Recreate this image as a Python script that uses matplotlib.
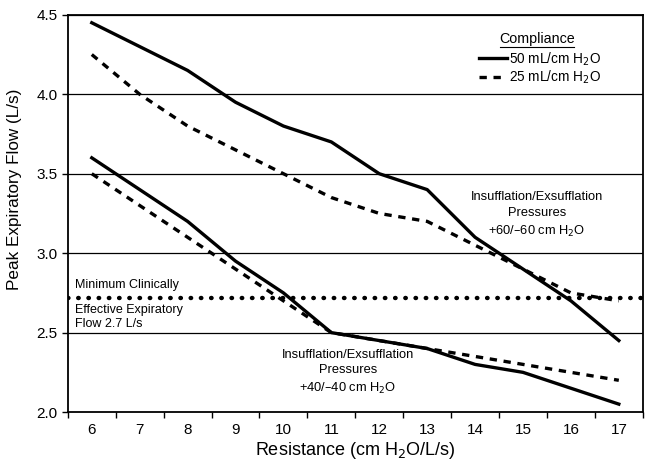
from matplotlib import pyplot as plt
from matplotlib.lines import Line2D
import numpy as np

plt.rcParams['font.family'] = ['Liberation Sans', 'DejaVu Sans']

resistance = [6, 7, 8, 9, 10, 11, 12, 13, 14, 15, 16, 17]
hi_50 = [4.45, 4.30, 4.15, 3.95, 3.80, 3.70, 3.50, 3.40, 3.10, 2.90, 2.70, 2.45]
hi_25 = [4.25, 4.00, 3.80, 3.65, 3.50, 3.35, 3.25, 3.20, 3.05, 2.90, 2.75, 2.70]
lo_50 = [3.60, 3.40, 3.20, 2.95, 2.75, 2.50, 2.45, 2.40, 2.30, 2.25, 2.15, 2.05]
lo_25 = [3.50, 3.30, 3.10, 2.90, 2.70, 2.50, 2.45, 2.40, 2.35, 2.30, 2.25, 2.20]
threshold = 2.72
yticks = [2.0, 2.5, 3.0, 3.5, 4.0, 4.5]

fig = plt.figure(figsize=(6.46, 4.63), dpi=100)
ax = fig.add_axes([0.105, 0.110, 0.89, 0.858])

for y in yticks[1:]:
    ax.axhline(y, color='k', lw=0.9, zorder=1)
ax.axhline(threshold, color='k', ls=(0, (0.1, 2.2)), lw=3.2, dash_capstyle='round', zorder=2)

dash = (0, (2.2, 2.0))
ax.plot(resistance, hi_50, color='k', lw=2.4, zorder=3)
ax.plot(resistance, hi_25, color='k', lw=2.4, ls=dash, zorder=3)
ax.plot(resistance, lo_50, color='k', lw=2.4, zorder=3)
ax.plot(resistance, lo_25, color='k', lw=2.4, ls=dash, zorder=3)

ax.set_xlim(5.5, 17.5)
ax.set_ylim(2.0, 4.5)
ax.set_xticks(resistance)
ax.set_xticks(np.arange(5.5, 18, 1), minor=True)
ax.tick_params(axis='x', which='major', length=0, labelsize=11, pad=8)
ax.tick_params(axis='x', which='minor', length=4, width=1, direction='out')
ax.set_yticks(yticks)
ax.set_yticklabels([f"{v:.1f}" for v in yticks])
ax.tick_params(axis='y', labelsize=11, length=4, width=1, direction='out')
for s in ax.spines.values():
    s.set_linewidth(1.3)

ax.set_xlabel("Resistance (cm H$_2$O/L/s)", fontsize=13, labelpad=2)
ax.set_ylabel("Peak Expiratory Flow (L/s)", fontsize=12.3)
ax.yaxis.set_label_coords(-0.08, 0.56)

ax.text(5.65, 2.80, "Minimum Clinically", fontsize=9, va='center')
ax.text(5.65, 2.60, "Effective Expiratory\nFlow 2.7 L/s", fontsize=9, va='center',
        linespacing=1.2)
ax.text(15.29, 3.24, "Insufflation/Exsufflation\nPressures\n+60/\u201360 cm H$_2$O",
        fontsize=9.3, ha='center', va='center', linespacing=1.4)
ax.text(11.35, 2.25, "Insufflation/Exsufflation\nPressures\n+40/\u201340 cm H$_2$O",
        fontsize=9.3, ha='center', va='center', linespacing=1.4)

# legend
ax.text(15.29, 4.35, "Compliance", fontsize=10.3, ha='center', va='center')
ax.plot([14.52, 16.06], [4.30, 4.30], color='k', lw=0.8)
handles = [Line2D([], [], color='k', lw=2.4),
           Line2D([], [], color='k', lw=2.4, ls=dash)]
ax.legend(handles, ["50 mL/cm H$_2$O", "25 mL/cm H$_2$O"], loc='upper right',
          bbox_to_anchor=(0.948, 0.942), frameon=False, fontsize=9.8,
          handlelength=2.0, handletextpad=0.15, labelspacing=0.1)

plt.savefig("out.png", dpi=100)
